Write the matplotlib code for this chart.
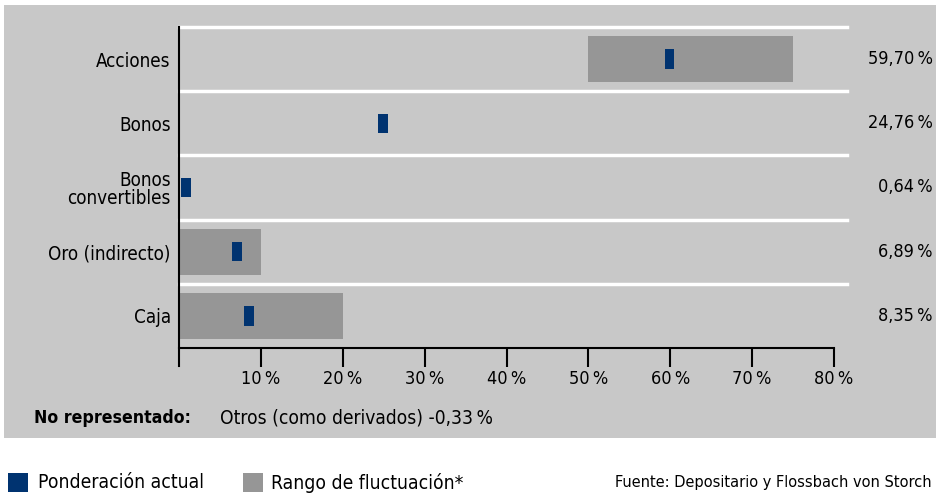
import matplotlib.pyplot as plt
from matplotlib import font_manager
from matplotlib.patches import Rectangle
from matplotlib.transforms import blended_transform_factory

categories = ["Acciones", "Bonos", "Bonos\nconvertibles", "Oro (indirecto)", "Caja"]
weights = [59.70, 24.76, 0.64, 6.89, 8.35]
weight_labels = ["59,70\u2009%", "24,76\u2009%", "0,64\u2009%", "6,89\u2009%", "8,35\u2009%"]
range_low = [50, None, None, 0, 0]
range_high = [75, None, None, 10, 20]
tick_vals = [10, 20, 30, 40, 50, 60, 70, 80]
tick_labels = [f"{v}\u2009%" for v in tick_vals]

BLUE = "#003370"
RANGE = "#969696"
BG = "#c8c8c8"

# prefer a narrow face, like the original
names = {f.name for f in font_manager.fontManager.ttflist}
if "Liberation Sans Narrow" in names:
    plt.rcParams["font.family"] = ["Liberation Sans Narrow", "DejaVu Sans"]
else:
    plt.rcParams["font.family"] = ["DejaVu Sans"]
    plt.rcParams["font.stretch"] = "condensed"

W, H = 936, 495
fig = plt.figure(figsize=(W / 100, H / 100), dpi=100)
fig.patch.set_facecolor("white")
fig.patches.append(Rectangle((4 / W, 1 - 438 / H), 1 - 4 / W, 433 / H,
                             transform=fig.transFigure, facecolor=BG,
                             edgecolor="none", zorder=-5))

ax = fig.add_axes([179 / W, 1 - 348 / H, (834 - 179) / W, (348 - 27) / H])
ax.set_zorder(2)
ax.set_facecolor("none")
ax.set_xlim(0, 80)
ax.set_ylim(len(categories) - 0.5, -0.5)

ys = list(range(len(categories)))
for y, lo, hi in zip(ys, range_low, range_high):
    if lo is not None:
        ax.barh(y, hi - lo, left=lo, height=0.72, color=RANGE, zorder=2)
ax.barh(ys, [1.2] * len(ys), left=[w - 0.4 for w in weights], height=0.3,
        color=BLUE, zorder=3)

# white separators
for y in [-0.5, 0.5, 1.5, 2.5, 3.5]:
    ax.plot([0, 81.6], [y, y], color="white", lw=2.5, clip_on=False, zorder=1)

for s in ["top", "right"]:
    ax.spines[s].set_visible(False)
ax.spines["left"].set_color("black")
ax.spines["left"].set_linewidth(1.5)
ax.spines["left"].set_bounds(-0.5, 4.78)
ax.spines["bottom"].set_linewidth(1.5)

ax.set_yticks(ys)
ax.set_yticklabels(categories, fontsize=13.5, linespacing=1.0)
ax.tick_params(axis="y", length=0, pad=6)
ax.set_xticks(tick_vals)
ax.set_xticklabels(tick_labels, fontsize=13)
ax.tick_params(axis="x", length=14, width=1.5, direction="out", pad=2)

right_tr = blended_transform_factory(fig.transFigure, ax.transData)
for y, lab in zip(ys, weight_labels):
    ax.text(933 / W, y, lab, transform=right_tr, fontsize=13,
            va="center", ha="right", clip_on=False)

fig.text(34 / W, 1 - 418 / H, "No representado:", fontsize=12.7, fontweight="bold",
         va="center", ha="left")
fig.text(220 / W, 1 - 418 / H, "Otros (como derivados) -0,33\u2009%", fontsize=13.8,
         va="center", ha="left")

# legend row
fig.patches.append(Rectangle((8 / W, 1 - 492 / H), 20 / W, 19 / H,
                             transform=fig.transFigure, facecolor=BLUE, edgecolor="none"))
fig.text(38 / W, 1 - 483 / H, "Ponderación actual", fontsize=13.9, va="center")
fig.patches.append(Rectangle((243 / W, 1 - 492 / H), 20 / W, 19 / H,
                             transform=fig.transFigure, facecolor=RANGE, edgecolor="none"))
fig.text(271 / W, 1 - 483 / H, "Rango de fluctuación*", fontsize=13.9, va="center")
fig.text(932 / W, 1 - 483 / H, "Fuente: Depositario y Flossbach von Storch",
         fontsize=11.7, va="center", ha="right")

fig.savefig("out.png", dpi=100)
